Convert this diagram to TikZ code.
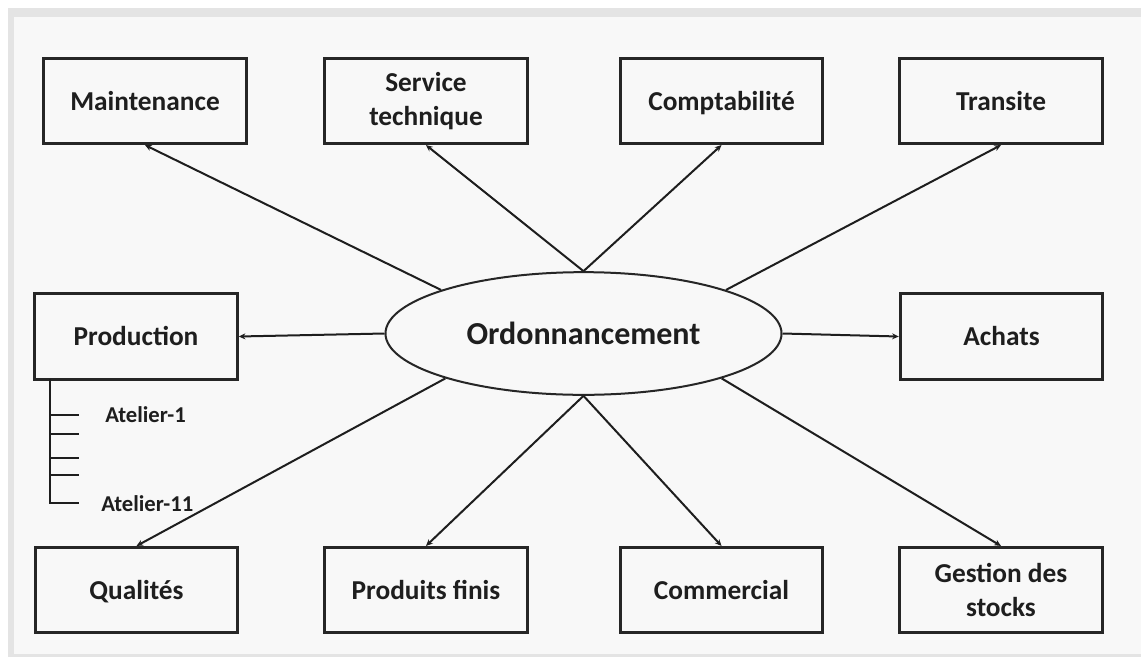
\documentclass[tikz,border=0pt]{standalone}
\usepackage{fontspec}
\setmainfont{Carlito}
\usetikzlibrary{shapes.geometric,arrows.meta}
\definecolor{ink}{HTML}{1E1E1E}
\definecolor{edge}{HTML}{262626}
\definecolor{paper}{HTML}{F8F8F8}
\definecolor{rim}{HTML}{E4E4E4}
\tikzset{
  box/.style={draw=edge,line width=2.1pt,fill=paper,text=ink,
      minimum width=152pt,minimum height=64pt,align=center,inner sep=2pt,
      font=\bfseries\fontsize{20.5}{25}\selectfont},
  oneline/.style={box,text height=16pt,text depth=2.5pt},
  link/.style={draw=ink,line width=1.5pt,-{Stealth[length=5pt,width=4.5pt]}},
  branch/.style={draw=ink,line width=1.6pt},
  sub/.style={text=ink,font=\bfseries\fontsize{17}{20}\selectfont,inner sep=0pt},
}
\begin{document}
\begin{tikzpicture}[x=0.75pt,y=-0.75pt]
\useasboundingbox (0,0) rectangle (1141,657);
% frame of the sheet
\fill[white] (0,0) rectangle (1141,657);
\fill[rim] (8,8) rectangle (1141,657);
\fill[paper] (14,17) rectangle (1141,654);

% central ellipse
\node[draw=edge,line width=1.5pt,ellipse,fill=paper,text=ink,minimum width=297pt,minimum height=92pt,
  font=\bfseries\fontsize{24}{28}\selectfont] (ord) at (583.5,333.5) {Ordonnancement};

% top row
\node[oneline] (maint) at (145,101) {Maintenance};
\node[box]     (serv)  at (426,101) {Service\\technique};
\node[oneline] (compt) at (721.5,101) {Comptabilité};
\node[oneline] (trans) at (1001,101) {Transite};
% middle row
\node[oneline] (prod)  at (136,336.5) {Production};
\node[oneline] (achat) at (1001.5,336.5) {Achats};
% bottom row
\node[oneline] (qual)  at (136.5,590) {Qualités};
\node[oneline] (pfin)  at (426,590) {Produits finis};
\node[oneline] (comm)  at (721.5,590) {Commercial};
\node[box]     (gest)  at (1001,590) {Gestion des\\stocks};

% connectors
\draw[link] (ord.163) -- (maint.south);
\draw[link] (ord.north) -- (serv.south);
\draw[link] (ord.north) -- (compt.south);
\draw[link] (ord.17) -- (trans.south);
\draw[link] (ord.west) -- (prod.east);
\draw[link] (ord.east) -- (achat.west);
\draw[link] (ord.198) -- (qual.north);
\draw[link] (ord.south) -- (pfin.north);
\draw[link] (ord.south) -- (comm.north);
\draw[link] (ord.342) -- (gest.north);

% workshops under Production
\coordinate (t0) at (50,379);
\coordinate (t1) at (50,415);
\coordinate (t2) at (50,434);
\coordinate (t3) at (50,458);
\coordinate (t4) at (50,475);
\coordinate (t5) at (50,503);
\draw[branch] (t0) -- (t5) -- ++(29,0);
\foreach \t in {t1,t2,t3,t4} \draw[branch] (\t) -- ++(29,0);
\node[sub,anchor=west] (at1) at (105,415) {Atelier-1};
\node[sub,anchor=west] (at11) at (101,504) {Atelier-11};
\end{tikzpicture}
\end{document}
